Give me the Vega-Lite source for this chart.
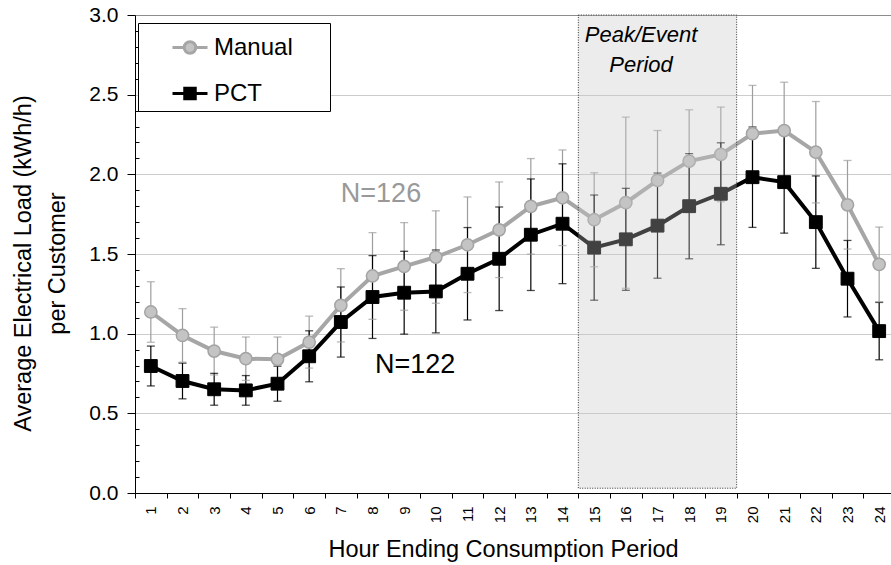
{
  "$schema": "https://vega.github.io/schema/vega-lite/v6.json",
  "width": 760,
  "height": 478,
  "autosize": {"type": "none"},
  "padding": {"left": 135, "top": 15, "right": 0, "bottom": 72},
  "background": "white",
  "config": {
    "font": "Liberation Sans",
    "view": {"stroke": null},
    "axis": {"labelColor": "#000", "titleColor": "#000", "titleFontWeight": "normal", "domainColor": "#000", "tickColor": "#000", "labelFont": "Liberation Sans", "titleFont": "Liberation Sans"}
  },
  "datasets": {
    "loads": [
      {"hour": 1, "series": "Manual", "mean": 1.136, "lo": 0.946, "hi": 1.326},
      {"hour": 2, "series": "Manual", "mean": 0.989, "lo": 0.821, "hi": 1.157},
      {"hour": 3, "series": "Manual", "mean": 0.891, "lo": 0.741, "hi": 1.041},
      {"hour": 4, "series": "Manual", "mean": 0.843, "lo": 0.707, "hi": 0.979},
      {"hour": 5, "series": "Manual", "mean": 0.839, "lo": 0.699, "hi": 0.979},
      {"hour": 6, "series": "Manual", "mean": 0.947, "lo": 0.784, "hi": 1.110},
      {"hour": 7, "series": "Manual", "mean": 1.178, "lo": 0.948, "hi": 1.408},
      {"hour": 8, "series": "Manual", "mean": 1.362, "lo": 1.090, "hi": 1.634},
      {"hour": 9, "series": "Manual", "mean": 1.422, "lo": 1.147, "hi": 1.697},
      {"hour": 10, "series": "Manual", "mean": 1.481, "lo": 1.191, "hi": 1.771},
      {"hour": 11, "series": "Manual", "mean": 1.558, "lo": 1.258, "hi": 1.858},
      {"hour": 12, "series": "Manual", "mean": 1.652, "lo": 1.352, "hi": 1.952},
      {"hour": 13, "series": "Manual", "mean": 1.799, "lo": 1.499, "hi": 2.099},
      {"hour": 14, "series": "Manual", "mean": 1.853, "lo": 1.553, "hi": 2.153},
      {"hour": 15, "series": "Manual", "mean": 1.715, "lo": 1.420, "hi": 2.010},
      {"hour": 16, "series": "Manual", "mean": 1.822, "lo": 1.285, "hi": 2.359},
      {"hour": 17, "series": "Manual", "mean": 1.962, "lo": 1.649, "hi": 2.275},
      {"hour": 18, "series": "Manual", "mean": 2.083, "lo": 1.761, "hi": 2.405},
      {"hour": 19, "series": "Manual", "mean": 2.125, "lo": 1.828, "hi": 2.422},
      {"hour": 20, "series": "Manual", "mean": 2.255, "lo": 1.952, "hi": 2.558},
      {"hour": 21, "series": "Manual", "mean": 2.275, "lo": 1.972, "hi": 2.578},
      {"hour": 22, "series": "Manual", "mean": 2.139, "lo": 1.821, "hi": 2.457},
      {"hour": 23, "series": "Manual", "mean": 1.809, "lo": 1.531, "hi": 2.087},
      {"hour": 24, "series": "Manual", "mean": 1.435, "lo": 1.201, "hi": 1.669},
      {"hour": 1, "series": "PCT", "mean": 0.797, "lo": 0.672, "hi": 0.922},
      {"hour": 2, "series": "PCT", "mean": 0.703, "lo": 0.591, "hi": 0.815},
      {"hour": 3, "series": "PCT", "mean": 0.651, "lo": 0.551, "hi": 0.751},
      {"hour": 4, "series": "PCT", "mean": 0.644, "lo": 0.551, "hi": 0.737},
      {"hour": 5, "series": "PCT", "mean": 0.686, "lo": 0.576, "hi": 0.796},
      {"hour": 6, "series": "PCT", "mean": 0.858, "lo": 0.698, "hi": 1.018},
      {"hour": 7, "series": "PCT", "mean": 1.073, "lo": 0.853, "hi": 1.293},
      {"hour": 8, "series": "PCT", "mean": 1.230, "lo": 0.970, "hi": 1.490},
      {"hour": 9, "series": "PCT", "mean": 1.257, "lo": 0.997, "hi": 1.517},
      {"hour": 10, "series": "PCT", "mean": 1.265, "lo": 1.005, "hi": 1.525},
      {"hour": 11, "series": "PCT", "mean": 1.376, "lo": 1.086, "hi": 1.666},
      {"hour": 12, "series": "PCT", "mean": 1.470, "lo": 1.145, "hi": 1.795},
      {"hour": 13, "series": "PCT", "mean": 1.621, "lo": 1.271, "hi": 1.971},
      {"hour": 14, "series": "PCT", "mean": 1.690, "lo": 1.314, "hi": 2.066},
      {"hour": 15, "series": "PCT", "mean": 1.540, "lo": 1.210, "hi": 1.870},
      {"hour": 16, "series": "PCT", "mean": 1.592, "lo": 1.272, "hi": 1.912},
      {"hour": 17, "series": "PCT", "mean": 1.678, "lo": 1.348, "hi": 2.008},
      {"hour": 18, "series": "PCT", "mean": 1.800, "lo": 1.470, "hi": 2.130},
      {"hour": 19, "series": "PCT", "mean": 1.878, "lo": 1.558, "hi": 2.198},
      {"hour": 20, "series": "PCT", "mean": 1.982, "lo": 1.667, "hi": 2.297},
      {"hour": 21, "series": "PCT", "mean": 1.951, "lo": 1.631, "hi": 2.271},
      {"hour": 22, "series": "PCT", "mean": 1.700, "lo": 1.410, "hi": 1.990},
      {"hour": 23, "series": "PCT", "mean": 1.345, "lo": 1.105, "hi": 1.585},
      {"hour": 24, "series": "PCT", "mean": 1.016, "lo": 0.836, "hi": 1.196}
    ],
    "period": [{"start": 14, "end": 19, "bottom": 0.03, "top": 3.0}],
    "counts": [
      {"x": 6.5, "y": 1.824, "label": "N=126", "series": "Manual"},
      {"x": 7.58, "y": 0.753, "label": "N=122", "series": "PCT"}
    ],
    "periodLabel": [
      {"x": 15.98, "y": 2.83, "label": "Peak/Event"},
      {"x": 15.98, "y": 2.642, "label": "Period"}
    ]
  },
  "resolve": {"scale": {"x": "independent"}, "axis": {"y": "independent"}},
  "layer": [
    {
      "data": {"name": "loads"},
      "resolve": {"scale": {"x": "shared"}, "axis": {"y": "shared"}},
      "encoding": {
        "x": {
          "field": "hour", "type": "ordinal",
          "scale": {"paddingInner": 0, "paddingOuter": 0},
          "title": "Hour Ending Consumption Period",
          "axis": {"tickBand": "extent", "labelAngle": -90, "labelFontSize": 15, "labelPadding": 8, "tickSize": 5, "titleFontSize": 23.5, "titleX": 368, "titleY": 63, "titleBaseline": "alphabetic", "domainColor": "#000", "domainWidth": 1}
        }
      },
      "layer": [
        {
          "mark": {"type": "rule", "strokeWidth": 1.2},
          "encoding": {
            "y": {"field": "lo", "type": "quantitative", "scale": {"domain": [0, 3], "nice": false, "zero": false},
              "title": ["Average Electrical Load (kWh/h)", "per Customer"],
              "axis": {"values": [0, 0.5, 1, 1.5, 2, 2.5, 3], "format": ".1f", "labelFontSize": 21, "labelPadding": 9, "tickSize": 8,
                "titleFontSize": 23.5, "titleLineHeight": 34, "titleX": -105, "titleY": 248, "titleBaseline": "alphabetic", "titleAlign": "center", "titleAngle": -90,
                "grid": true, "gridColor": {"condition": {"test": "datum.value == 3", "value": "#8c8c8c"}, "value": "#cccccc"}, "gridWidth": 1}},
            "y2": {"field": "hi"},
            "color": {"condition": {"test": "datum.series == 'Manual'", "value": "#9d9d9d"}, "value": "#000000"}
          }
        },
        {
          "mark": {"type": "tick", "size": 8, "thickness": 1.3},
          "encoding": {
            "y": {"field": "hi", "type": "quantitative", "title": ["Average Electrical Load (kWh/h)", "per Customer"]},
            "color": {"condition": {"test": "datum.series == 'Manual'", "value": "#9d9d9d"}, "value": "#000000"}
          }
        },
        {
          "mark": {"type": "tick", "size": 8, "thickness": 1.3},
          "encoding": {
            "y": {"field": "lo", "type": "quantitative", "title": ["Average Electrical Load (kWh/h)", "per Customer"]},
            "color": {"condition": {"test": "datum.series == 'Manual'", "value": "#9d9d9d"}, "value": "#000000"}
          }
        },
        {
          "mark": {"type": "line", "strokeWidth": 4},
          "encoding": {
            "y": {"field": "mean", "type": "quantitative", "title": ["Average Electrical Load (kWh/h)", "per Customer"]},
            "color": {
              "field": "series", "type": "nominal",
              "scale": {"domain": ["Manual", "PCT"], "range": ["#a6a6a6", "#000000"]},
              "legend": {
                "orient": "none", "legendX": 3, "legendY": 8, "title": null,
                "padding": 5.5, "strokeColor": "#000", "fillColor": "#fff", "cornerRadius": 0,
                "symbolSize": 1225, "symbolOffset": 27.5, "labelOffset": 5, "rowPadding": 15,
                "labelFontSize": 24, "labelFont": "Liberation Sans", "labelColor": "#000", "labelLimit": 400,
                "labelExpr": "datum.label + '\u00a0\u00a0\u00a0\u00a0\u2009\u200b'",
                "symbolStrokeWidth": 3,
                "encode": {"symbols": {"update": {
                  "shape": {"signal": "datum.value == 'Manual' ? 'M-1,0L-0.33,0M0.33,0L1,0M-0.33,0A0.33,0.33,0,1,0,0.33,0A0.33,0.33,0,1,0,-0.33,0' : 'M-1,0L-0.3,0M0.3,0L1,0M-0.3,-0.3L0.3,-0.3L0.3,0.3L-0.3,0.3Z'"},
                  "fill": {"signal": "datum.value == 'Manual' ? '#c4c4c4' : '#000000'"},
                  "stroke": {"signal": "datum.value == 'Manual' ? '#a6a6a6' : '#000000'"},
                  "strokeWidth": {"value": 3},
                  "opacity": {"value": 1}
                }}}
              }
            },
            "detail": {"field": "series"}
          }
        },
        {
          "transform": [{"filter": "datum.series == 'Manual'"}],
          "mark": {"type": "point", "shape": "circle", "filled": true, "opacity": 1, "size": 150, "fill": "#c4c4c4", "stroke": "#a3a3a3", "strokeWidth": 1.5},
          "encoding": {
            "y": {"field": "mean", "type": "quantitative", "title": ["Average Electrical Load (kWh/h)", "per Customer"]}
          }
        },
        {
          "transform": [{"filter": "datum.series == 'PCT'"}],
          "mark": {"type": "point", "shape": "square", "filled": true, "opacity": 1, "size": 165, "fill": "#000000", "stroke": "#000000", "strokeWidth": 1},
          "encoding": {
            "y": {"field": "mean", "type": "quantitative", "title": ["Average Electrical Load (kWh/h)", "per Customer"]}
          }
        }
      ]
    },
    {
      "data": {"name": "period"},
      "mark": {"type": "rect", "fill": "#c4c4c4", "fillOpacity": 0.33, "stroke": "#333333", "strokeWidth": 1, "strokeDash": [1, 1.5]},
      "encoding": {
        "x": {"field": "start", "type": "quantitative", "scale": {"domain": [0, 24], "nice": false, "zero": false}, "axis": null},
        "x2": {"field": "end"},
        "y": {"field": "bottom", "type": "quantitative", "title": null,
          "axis": {"orient": "left", "values": [0.1, 0.2, 0.3, 0.4, 0.6, 0.7, 0.8, 0.9, 1.1, 1.2, 1.3, 1.4, 1.6, 1.7, 1.8, 1.9, 2.1, 2.2, 2.3, 2.4, 2.6, 2.7, 2.8, 2.9], "labels": false, "domain": false, "grid": false, "tickSize": -4, "title": null}},
        "y2": {"field": "top"}
      }
    },
    {
      "data": {"name": "counts"},
      "mark": {"type": "text", "align": "left", "baseline": "alphabetic", "fontSize": 27, "font": "Liberation Sans"},
      "encoding": {
        "x": {"field": "x", "type": "quantitative", "scale": {"domain": [0, 24], "nice": false, "zero": false}, "axis": null},
        "y": {"field": "y", "type": "quantitative", "axis": null},
        "text": {"field": "label"},
        "color": {"condition": {"test": "datum.series == 'Manual'", "value": "#999999"}, "value": "#000000"}
      }
    },
    {
      "data": {"name": "periodLabel"},
      "mark": {"type": "text", "align": "center", "baseline": "alphabetic", "fontSize": 22, "fontStyle": "italic", "font": "Liberation Sans", "color": "#000"},
      "encoding": {
        "x": {"field": "x", "type": "quantitative", "scale": {"domain": [0, 24], "nice": false, "zero": false}, "axis": null},
        "y": {"field": "y", "type": "quantitative", "axis": null},
        "text": {"field": "label"}
      }
    }
  ]
}
